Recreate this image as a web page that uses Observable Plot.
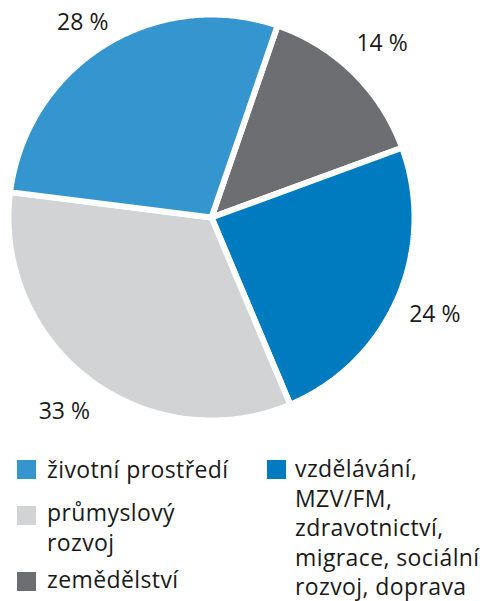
<!DOCTYPE html>
<html><head><meta charset="utf-8">
<script src="https://cdn.jsdelivr.net/npm/d3@7"></script>
<script src="https://cdn.jsdelivr.net/npm/@observablehq/plot@0.6"></script>
<style>
body{margin:0;background:#fff;font-family:"Open Sans",sans-serif;color:#1a1a1a}
#wrap{position:relative;width:488px;height:601px;overflow:hidden}
#chart{position:absolute;left:0;top:0}
#legend{position:absolute;left:0;top:430px;width:488px;height:171px}
.sw{position:absolute;width:19px;height:19px}
.lt{position:absolute;font-size:23px;line-height:30px;letter-spacing:0.4px;white-space:nowrap}
</style></head><body><div id="wrap"><div id="chart"></div><div id="legend"></div></div>
<script>
const categories = ["zemědělství", "vzdělávání, MZV/FM, zdravotnictví, migrace, sociální rozvoj, doprava", "průmyslový rozvoj", "životní prostředí"];
const values = [14, 24, 33, 28];
const labels = ["14 %", "24 %", "33 %", "28 %"];
const colors = ["#6d6e71", "#007bc0", "#d1d3d4", "#3595cf"];
const legendLines = [
  ["zemědělství"],
  ["vzdělávání,", "MZV/FM,", "zdravotnictví,", "migrace, sociální", "rozvoj, doprava"],
  ["průmyslový", "rozvoj"],
  ["životní prostředí"]
];

const start = 19 * Math.PI / 180;
const arcs = d3.pie().sort(null).startAngle(start).endAngle(start + 2 * Math.PI)(values);
const pts = [];
arcs.forEach((a, i) => {
  pts.push({k: categories[i], x: 0, y: 0});
  const n = Math.ceil((a.endAngle - a.startAngle) / (Math.PI / 360));
  for (let j = 0; j <= n; j++) {
    const t = a.startAngle + (a.endAngle - a.startAngle) * j / n;
    pts.push({k: categories[i], x: Math.sin(t), y: Math.cos(t)});
  }
  pts.push({k: categories[i], x: 0, y: 0});
});
const labelData = arcs.map((a, i) => {
  const m = (a.startAngle + a.endAngle) / 2;
  return {x: 1.2 * Math.sin(m), y: Math.min(0.96, 1.2 * Math.cos(m)), t: labels[i]};
});

const cx = 211, cy = 217, R = 203;
const chart = Plot.plot({
  width: 488, height: 430, margin: 0,
  style: {fontFamily: "'Open Sans', sans-serif", background: "transparent"},
  x: {domain: [-1, 1], range: [cx - R, cx + R], axis: null},
  y: {domain: [-1, 1], range: [cy + R, cy - R], axis: null},
  color: {domain: categories, range: colors},
  marks: [
    Plot.line(pts, {x: "x", y: "y", z: "k", fill: "k", stroke: "white", strokeWidth: 6, strokeLinejoin: "miter", curve: "linear"}),
    Plot.text(labelData, {x: "x", y: "y", text: "t", fontSize: 23, fill: "#1a1a1a"})
  ]
});
document.getElementById("chart").appendChild(chart);

const legend = document.getElementById("legend");
const layout = [
  {i: 3, sx: 17, sy: 30, tx: 47, ty: 24, lh: 30},
  {i: 2, sx: 17, sy: 76, tx: 47, ty: 67, lh: 30},
  {i: 0, sx: 17, sy: 142, tx: 47, ty: 134, lh: 30},
  {i: 1, sx: 267, sy: 30, tx: 295, ty: 24, lh: 29.5}
];
layout.forEach(l => {
  const s = document.createElement("div");
  s.className = "sw";
  s.style.left = l.sx + "px"; s.style.top = l.sy + "px";
  s.style.background = colors[l.i];
  legend.appendChild(s);
  const t = document.createElement("div");
  t.className = "lt";
  t.style.left = l.tx + "px"; t.style.top = l.ty + "px";
  t.style.lineHeight = l.lh + "px";
  t.innerHTML = legendLines[l.i].join("<br>");
  legend.appendChild(t);
});
</script>
</body></html>
